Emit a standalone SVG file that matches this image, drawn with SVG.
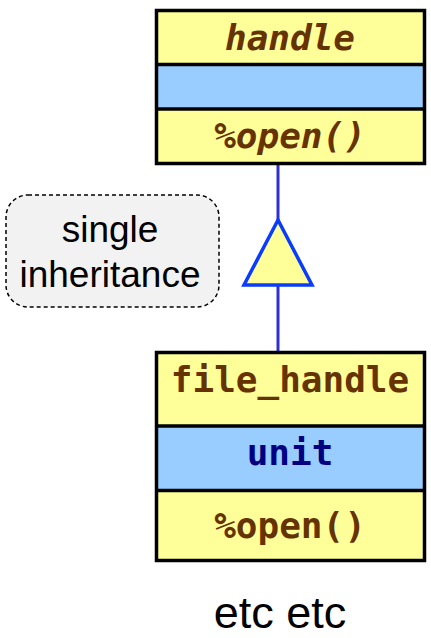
<svg xmlns="http://www.w3.org/2000/svg" width="431" height="638" viewBox="0 0 431 638">
  <style>
    .box { stroke: #000; stroke-width: 3.5; }
    .yel { fill: #ffff99; }
    .blu { fill: #99ccff; }
    .sep { stroke: #000; stroke-width: 3.5; }
    .mono { font-family: "DejaVu Sans Mono", "Liberation Mono", monospace; font-weight: bold; font-size: 36px; text-anchor: middle; }
    .name { fill: #663300; }
    .attr { fill: #000080; }
    .sans { font-family: "Liberation Sans", Arial, sans-serif; fill: #000; text-anchor: middle; }
  </style>

  <!-- connectors -->
  <g id="connectors">
    <line x1="278" y1="164" x2="278" y2="352" stroke="#3030d0" stroke-width="3"/>
    <polygon points="278,220 244,285 312,285" fill="#ffff99" stroke="#0a3cff" stroke-width="3.5" stroke-linejoin="miter"/>
  </g>

  <!-- base class -->
  <g id="handle">
    <rect class="yel" x="156.5" y="10.5" width="268" height="54"/>
    <rect class="blu" x="156.5" y="64.5" width="268" height="44.5"/>
    <rect class="yel" x="156.5" y="109" width="268" height="54.5"/>
    <line class="sep" x1="156.5" y1="64.5" x2="424.5" y2="64.5"/>
    <line class="sep" x1="156.5" y1="109" x2="424.5" y2="109"/>
    <rect class="box" x="156.5" y="10.5" width="268" height="153" fill="none"/>
    <text class="mono name" x="290" y="50" font-style="italic">handle</text>
    <text class="mono name" x="290" y="148" font-style="italic">%open()</text>
  </g>

  <!-- derived class -->
  <g id="file_handle">
    <rect class="yel" x="156.5" y="352.5" width="268" height="73.5"/>
    <rect class="blu" x="156.5" y="426" width="268" height="64.5"/>
    <rect class="yel" x="156.5" y="490.5" width="268" height="70"/>
    <line class="sep" x1="156.5" y1="426" x2="424.5" y2="426"/>
    <line class="sep" x1="156.5" y1="490.5" x2="424.5" y2="490.5"/>
    <rect class="box" x="156.5" y="352.5" width="268" height="208" fill="none"/>
    <text class="mono name" x="290" y="392">file_handle</text>
    <text class="mono attr" x="290" y="465">unit</text>
    <text class="mono name" x="290" y="538">%open()</text>
  </g>

  <!-- note -->
  <g id="note">
    <rect x="6" y="195" width="213" height="112" rx="22" ry="22" fill="#f2f2f2" stroke="#000" stroke-width="1.5" stroke-dasharray="4,3"/>
    <text class="sans" x="110" y="242" font-size="37">single</text>
    <text class="sans" x="110" y="287" font-size="37">inheritance</text>
  </g>

  <!-- footer -->
  <g id="footer">
    <text class="sans" x="280" y="628" font-size="45">etc etc</text>
  </g>
</svg>
